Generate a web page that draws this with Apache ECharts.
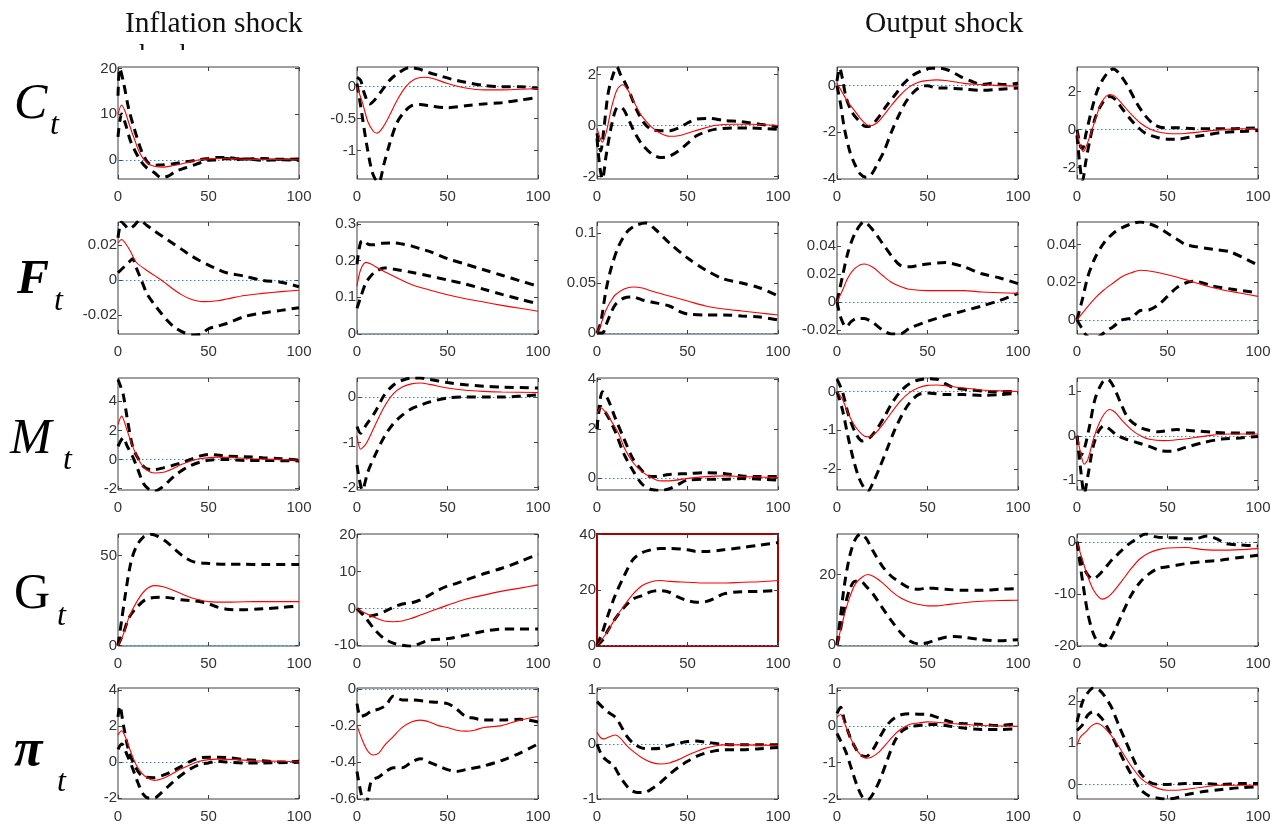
<!DOCTYPE html>
<html><head><meta charset="utf-8">
<script src="https://cdn.jsdelivr.net/npm/echarts@6/dist/echarts.min.js"></script>
<style>html,body{margin:0;padding:0;background:#fff}#c{width:1281px;height:824px}</style>
</head><body><div id="c"></div><script>
// ---- column / row headings ----
const colTitles = ['Inflation shock', '', '', 'Output shock', ''];
const rowNames = ['C', 'F', 'M', 'G', 'π'];
const xTicks = [0, 50, 100];

// ---- Row C ----
const C1_mid = [[0,10],[2,12],[4,10.5],[6,8],[9,4.6],[12,1.5],[16,-0.7],[20,-1.4],[25,-1.6],[30,-1.3],[35,-0.9],[40,-0.4],[45,0],[50,0.2],[57,0.3],[65,0.2],[75,0.1],[100,0]];
const C1_hi = [[0,14],[1,20],[3,17],[6,11],[9,6.8],[12,3],[14,1],[17,-0.8],[20,-1.2],[25,-1.1],[30,-0.9],[35,-0.6],[40,-0.3],[45,0],[50,0.3],[55,0.5],[60,0.5],[65,0.3],[70,0.2],[80,0.3],[90,0.1],[100,0.2]];
const C1_lo = [[0,5],[2,10],[4,8],[7,4],[10,1.5],[13,-0.5],[16,-1.8],[20,-2.8],[24,-3.9],[28,-3.5],[32,-2.5],[37,-1.8],[43,-1],[50,-0.1],[55,0],[60,0.3],[65,0],[70,0.2],[80,-0.1],[90,0],[100,-0.1]];
const C2_mid = [[0,0],[3,-0.25],[6,-0.55],[9,-0.7],[11,-0.73],[14,-0.65],[18,-0.45],[22,-0.22],[27,0],[32,0.12],[37,0.15],[42,0.13],[50,0.05],[60,-0.02],[70,-0.05],[80,-0.05],[90,-0.04],[100,-0.03]];
const C2_hi = [[0,0.15],[2,0.1],[4,-0.1],[7,-0.27],[10,-0.2],[14,-0.05],[18,0.1],[23,0.22],[29,0.3],[34,0.28],[40,0.22],[46,0.17],[52,0.12],[60,0.07],[70,0.02],[80,0],[90,0],[100,-0.03]];
const C2_lo = [[0,0.05],[2,-0.3],[5,-0.85],[8,-1.3],[10,-1.45],[12,-1.5],[15,-1.2],[18,-0.9],[22,-0.57],[26,-0.4],[30,-0.3],[35,-0.28],[40,-0.3],[50,-0.33],[60,-0.3],[70,-0.27],[80,-0.25],[90,-0.21],[100,-0.17]];
const C3_mid = [[0,-0.1],[2,-0.55],[3,-0.65],[5,-0.3],[8,0.7],[11,1.4],[14,1.6],[17,1.4],[21,0.85],[25,0.35],[30,-0.05],[35,-0.3],[40,-0.42],[45,-0.4],[50,-0.3],[57,-0.15],[65,0],[75,0.05],[85,0.05],[100,0]];
const C3_hi = [[0,-0.3],[2,-1],[4,0],[6,1.2],[8,1.8],[11,2.3],[13,2.0],[15,1.75],[18,1.3],[22,0.6],[26,0.1],[30,-0.15],[35,-0.2],[40,-0.2],[45,-0.1],[50,0.1],[55,0.25],[62,0.28],[70,0.2],[80,0.15],[90,0.05],[100,-0.05]];
const C3_lo = [[0,-0.5],[1.5,-1.6],[3,-2.1],[5,-1.2],[8,0],[11,0.7],[13,0.72],[15,0.6],[18,0.15],[21,-0.3],[25,-0.75],[30,-1.1],[35,-1.26],[40,-1.2],[45,-1.0],[50,-0.7],[55,-0.4],[60,-0.25],[65,-0.15],[75,-0.1],[85,-0.1],[100,-0.15]];
const C4_mid = [[0,0.1],[3,-0.3],[6,-0.7],[10,-1.1],[14,-1.5],[18,-1.72],[22,-1.6],[26,-1.25],[30,-0.85],[35,-0.4],[40,-0.05],[45,0.15],[50,0.22],[55,0.25],[60,0.22],[70,0.1],[80,0.05],[90,0],[100,-0.02]];
const C4_hi = [[0,0.2],[1.5,0.75],[3,0.3],[5,-0.5],[8,-1.1],[12,-1.5],[16,-1.75],[19,-1.7],[23,-1.35],[27,-0.9],[32,-0.4],[37,0.1],[42,0.45],[47,0.65],[52,0.75],[57,0.75],[62,0.65],[68,0.4],[74,0.2],[80,0.05],[86,0.1],[92,0.05],[100,0.1]];
const C4_lo = [[0,0],[2,-0.8],[4,-1.8],[7,-2.8],[10,-3.4],[13,-3.8],[16,-3.92],[19,-3.8],[22,-3.4],[26,-2.8],[30,-2.0],[34,-1.3],[38,-0.7],[42,-0.3],[46,-0.05],[50,0],[55,-0.1],[60,-0.1],[70,-0.15],[80,-0.2],[90,-0.15],[100,-0.1]];
const C5_mid = [[0,-0.1],[2,-0.9],[3.5,-1.15],[5,-0.9],[8,-0.1],[11,0.8],[14,1.5],[18,1.85],[21,1.75],[25,1.35],[30,0.8],[35,0.35],[40,0.05],[45,-0.12],[50,-0.2],[55,-0.22],[60,-0.2],[70,-0.1],[80,0],[90,0.05],[100,0.05]];
const C5_hi = [[0,0],[2,-0.9],[3,-1.0],[5,-0.2],[8,1.0],[11,2.0],[14,2.6],[17,3.0],[20,3.2],[23,3.0],[28,2.3],[33,1.4],[38,0.7],[43,0.25],[48,0.1],[55,0.1],[65,0.05],[75,0.05],[85,0.05],[100,0.1]];
const C5_lo = [[0,-0.3],[1.5,-1.8],[3,-2.7],[5,-1.6],[7,-0.6],[10,0.6],[14,1.4],[18,1.75],[21,1.6],[25,1.1],[30,0.5],[34,0.1],[38,-0.2],[44,-0.4],[50,-0.5],[56,-0.5],[62,-0.4],[70,-0.3],[80,-0.15],[90,-0.1],[100,-0.05]];

// ---- Row F ----
const F1_mid = [[0,0.021],[2,0.023],[4,0.021],[7,0.016],[10,0.01],[15,0.006],[20,0.0025],[25,-0.001],[30,-0.005],[35,-0.0085],[40,-0.011],[47,-0.0125],[55,-0.012],[60,-0.011],[70,-0.009],[80,-0.0078],[90,-0.0068],[100,-0.006]];
const F1_hi = [[0,0.024],[2,0.033],[4,0.031],[6,0.029],[9,0.031],[12,0.034],[16,0.031],[20,0.028],[25,0.0245],[30,0.021],[35,0.0175],[40,0.014],[45,0.011],[50,0.0084],[55,0.006],[60,0.004],[70,0.002],[80,-0.0004],[90,-0.0014],[100,-0.004]];
const F1_lo = [[0,0.004],[3,0.007],[6,0.01],[8,0.012],[10,0.007],[13,-0.0004],[16,-0.008],[20,-0.014],[23,-0.018],[27,-0.023],[31,-0.027],[36,-0.030],[42,-0.0315],[46,-0.031],[50,-0.028],[55,-0.0265],[60,-0.025],[70,-0.021],[80,-0.019],[90,-0.0175],[100,-0.016]];
const F2_mid = [[0,0.13],[2,0.175],[5,0.195],[8,0.19],[10,0.184],[15,0.17],[20,0.158],[30,0.135],[40,0.12],[50,0.107],[60,0.096],[70,0.087],[80,0.078],[90,0.07],[100,0.062]];
const F2_hi = [[0,0.19],[2,0.25],[4,0.255],[6,0.245],[9,0.243],[14,0.247],[20,0.248],[25,0.245],[30,0.24],[35,0.232],[40,0.225],[50,0.205],[60,0.19],[70,0.175],[80,0.16],[90,0.145],[100,0.13]];
const F2_lo = [[0,0.07],[2,0.1],[5,0.14],[8,0.16],[11,0.172],[15,0.18],[20,0.177],[30,0.168],[40,0.158],[50,0.147],[60,0.136],[70,0.122],[80,0.108],[90,0.095],[100,0.082]];
const F3_mid = [[0,0],[2,0.008],[5,0.023],[8,0.033],[10,0.038],[15,0.044],[20,0.046],[25,0.045],[30,0.042],[40,0.037],[50,0.032],[60,0.027],[70,0.024],[80,0.022],[90,0.02],[100,0.018]];
const F3_hi = [[0,0],[2,0.01],[5,0.043],[8,0.066],[12,0.087],[17,0.102],[22,0.108],[27,0.11],[32,0.104],[40,0.09],[50,0.075],[60,0.063],[70,0.054],[80,0.05],[90,0.045],[100,0.037]];
const F3_lo = [[0,0],[3,0],[5,0.008],[7,0.017],[10,0.028],[15,0.035],[20,0.036],[25,0.033],[30,0.031],[40,0.027],[45,0.022],[50,0.019],[60,0.018],[70,0.018],[80,0.017],[90,0.016],[100,0.013]];
const F4_mid = [[0,0],[3,0.008],[6,0.017],[10,0.024],[15,0.027],[20,0.0245],[25,0.019],[30,0.014],[35,0.011],[40,0.009],[50,0.008],[60,0.008],[70,0.008],[80,0.007],[90,0.0065],[100,0.006]];
const F4_hi = [[0,0],[3,0.018],[6,0.035],[10,0.049],[15,0.057],[20,0.051],[25,0.042],[30,0.033],[35,0.026],[40,0.025],[45,0.026],[50,0.027],[60,0.028],[70,0.025],[80,0.02],[90,0.017],[100,0.013]];
const F4_lo = [[0,0],[2,-0.011],[5,-0.018],[8,-0.014],[11,-0.012],[15,-0.012],[20,-0.015],[25,-0.02],[30,-0.023],[35,-0.023],[40,-0.019],[50,-0.014],[60,-0.01],[70,-0.0065],[80,-0.003],[90,0.001],[100,0.006]];
const F5_mid = [[0,0],[5,0.006],[10,0.0116],[15,0.016],[20,0.0196],[25,0.023],[30,0.025],[35,0.0264],[40,0.026],[50,0.024],[60,0.0214],[70,0.0184],[80,0.016],[90,0.0143],[100,0.0125]];
const F5_hi = [[0,0],[3,0.011],[6,0.023],[10,0.033],[15,0.041],[20,0.046],[25,0.049],[30,0.051],[35,0.052],[40,0.051],[45,0.049],[50,0.046],[55,0.043],[60,0.04],[65,0.039],[75,0.0375],[85,0.036],[100,0.029]];
const F5_lo = [[0,0],[3,-0.005],[5,-0.008],[8,-0.01],[12,-0.009],[16,-0.006],[20,-0.0036],[25,0],[30,0.001],[35,0.005],[40,0.0054],[45,0.008],[50,0.0125],[55,0.017],[60,0.0196],[65,0.0205],[75,0.018],[85,0.0164],[100,0.0143]];

// ---- Row M ----
const M1_mid = [[0,2.4],[2,2.98],[5,2.0],[8,0.93],[10,0.35],[13,-0.35],[16,-0.74],[20,-0.93],[25,-0.88],[30,-0.65],[35,-0.35],[40,-0.12],[45,0.05],[55,0.16],[65,0.12],[75,0.05],[100,-0.05]];
const M1_hi = [[0,5.5],[1.5,5],[3,4.4],[5,2.9],[8,0.93],[11,0.1],[15,-0.58],[20,-0.7],[25,-0.58],[30,-0.42],[35,-0.23],[40,0],[45,0.23],[50,0.35],[55,0.3],[60,0.23],[70,0.19],[80,0.12],[90,0.05],[100,-0.05]];
const M1_lo = [[0,0.9],[3,1.5],[5,0.93],[8,0.23],[11,-0.7],[14,-1.63],[17,-2.05],[20,-2.2],[24,-1.95],[28,-1.5],[32,-1.05],[36,-0.7],[40,-0.42],[45,-0.19],[50,-0.05],[60,0],[70,-0.07],[80,-0.07],[100,-0.1]];
const M2_mid = [[0,-0.85],[2,-1.15],[5,-1.03],[10,-0.62],[15,-0.22],[20,0.07],[25,0.22],[30,0.29],[35,0.31],[40,0.28],[50,0.2],[60,0.15],[70,0.125],[80,0.11],[100,0.1]];
const M2_hi = [[0,-0.65],[2,-0.8],[5,-0.62],[10,-0.33],[15,0.04],[20,0.26],[25,0.37],[30,0.42],[35,0.42],[40,0.39],[50,0.32],[60,0.27],[70,0.24],[80,0.22],[100,0.2]];
const M2_lo = [[0,-1.5],[3,-2.05],[6,-1.65],[10,-1.28],[15,-0.88],[20,-0.59],[25,-0.4],[30,-0.26],[35,-0.18],[40,-0.11],[50,-0.02],[60,0],[70,0],[80,0],[100,0.05]];
const M3_mid = [[0,2.6],[2,2.85],[5,2.65],[8,2.3],[12,1.8],[15,1.25],[20,0.63],[25,0.26],[30,0.03],[35,-0.1],[40,-0.1],[50,0],[60,0.07],[70,0.1],[80,0.07],[100,0.03]];
const M3_hi = [[0,2.0],[3,3.5],[6,3.2],[10,2.45],[15,1.58],[20,0.77],[25,0.3],[28,0.1],[32,0.07],[40,0.16],[50,0.19],[60,0.23],[70,0.2],[80,0.1],[90,0.07],[100,0.07]];
const M3_lo = [[0,2.0],[2,2.9],[6,2.5],[10,1.9],[15,0.97],[20,0.3],[25,-0.24],[30,-0.45],[35,-0.49],[40,-0.42],[45,-0.24],[50,-0.07],[60,-0.04],[70,-0.04],[80,-0.01],[100,-0.07]];
const M4_mid = [[0,0],[3,-0.2],[6,-0.55],[10,-0.9],[15,-1.15],[18,-1.17],[22,-1.04],[26,-0.81],[30,-0.55],[35,-0.25],[40,-0.03],[45,0.1],[50,0.16],[55,0.17],[60,0.15],[70,0.09],[80,0.04],[90,0.02],[100,0]];
const M4_hi = [[0,0.32],[3,0],[6,-0.55],[10,-1.05],[14,-1.28],[18,-1.2],[22,-0.97],[26,-0.67],[30,-0.33],[35,0],[40,0.2],[45,0.3],[50,0.33],[55,0.32],[60,0.2],[65,0.09],[75,0.04],[85,0],[100,0]];
const M4_lo = [[0,0],[3,-0.47],[6,-1.15],[9,-1.75],[12,-2.22],[15,-2.5],[17,-2.58],[20,-2.35],[24,-1.92],[28,-1.45],[32,-0.98],[36,-0.6],[40,-0.3],[45,-0.08],[50,-0.04],[60,-0.08],[70,-0.08],[80,-0.1],[90,-0.08],[100,-0.04]];
const M5_mid = [[0,0],[2,-0.38],[4,-0.64],[6,-0.53],[9,-0.08],[12,0.26],[15,0.49],[18,0.59],[21,0.53],[25,0.34],[30,0.14],[35,0],[40,-0.08],[48,-0.11],[55,-0.09],[65,-0.04],[75,0.015],[85,0.04],[100,0.04]];
const M5_hi = [[0,0],[2,-0.45],[4,-0.3],[7,0.23],[10,0.83],[14,1.2],[17,1.27],[20,1.12],[24,0.75],[28,0.41],[33,0.23],[38,0.14],[45,0.09],[55,0.14],[65,0.11],[75,0.08],[85,0.06],[100,0.06]];
const M5_lo = [[0,0],[2,-0.75],[4,-1.3],[6,-0.9],[9,-0.23],[12,0.11],[15,0.23],[18,0.15],[22,0.015],[27,-0.075],[33,-0.15],[40,-0.24],[47,-0.34],[52,-0.35],[60,-0.26],[70,-0.15],[80,-0.075],[90,-0.05],[100,-0.015]];

// ---- Row G ----
const G1_mid = [[0,0],[3,6.3],[6,15.5],[10,23.7],[15,30.7],[20,33.3],[25,32.7],[30,30.9],[35,28.7],[40,26.7],[45,25.4],[50,24.4],[60,24.1],[70,24.3],[80,24.4],[100,24.4]];
const G1_hi = [[0,0],[2,14],[4,28],[7,45.6],[10,54.8],[14,60.3],[18,61.8],[22,60.7],[27,57.5],[32,52.9],[37,48.9],[42,46.5],[50,45.6],[60,45.2],[70,45.2],[80,45],[100,45]];
const G1_lo = [[0,0],[3,7],[6,15.3],[10,20.8],[15,25.4],[20,26.7],[25,26.8],[30,26.3],[35,25.4],[40,25],[45,24.4],[50,23.2],[55,21.3],[60,20.2],[65,19.9],[70,19.9],[80,20.4],[90,21.1],[100,22]];
const G2_mid = [[0,0],[5,-1.4],[10,-2.5],[15,-3.4],[20,-3.6],[25,-3.4],[30,-2.7],[35,-1.8],[40,-0.9],[45,0],[50,0.9],[60,2.5],[70,3.6],[80,4.7],[90,5.5],[100,6.4]];
const G2_hi = [[0,0],[3,-1.4],[6,-2.1],[10,-1.8],[15,-0.9],[20,0.3],[25,1.2],[30,1.5],[35,2.3],[40,3.6],[45,5],[50,6.1],[55,6.8],[60,7.7],[70,9.4],[80,10.9],[90,12.7],[100,14.7]];
const G2_lo = [[0,0],[5,-2.7],[10,-5.9],[15,-8.2],[20,-9.4],[25,-10],[30,-10.3],[35,-9.5],[40,-8.6],[50,-8.2],[60,-7.3],[70,-6.2],[80,-5.6],[90,-5.6],[100,-5.6]];
const G3_mid = [[0,0],[5,4.2],[10,9.6],[15,14.4],[20,18.6],[25,21.6],[30,23],[35,23.4],[40,23.1],[50,22.8],[60,22.5],[70,22.5],[80,22.8],[90,23],[100,23.4]];
const G3_hi = [[0,0],[3,4.8],[6,10.8],[10,18],[15,25.1],[20,31.1],[25,33.5],[30,34.5],[35,35],[40,35],[50,34.5],[55,33.9],[60,33.9],[70,34.5],[80,35.3],[90,36.2],[100,37.1]];
const G3_lo = [[0,0],[3,1.8],[6,5.4],[10,9.6],[15,13.8],[20,16.8],[25,18],[30,19.4],[35,19.8],[40,19.2],[45,17.4],[50,16.2],[55,15.6],[60,15.8],[65,17],[70,18.6],[80,19.4],[90,19.5],[100,19.8]];
const G4_mid = [[0,0],[3,6.4],[6,12],[10,17.2],[14,19.3],[17,20],[20,19.5],[25,17.7],[30,15.3],[35,13.4],[40,12.2],[45,11.5],[50,11.1],[55,11.1],[60,11.4],[70,12],[80,12.4],[90,12.6],[100,12.7]];
const G4_hi = [[0,0],[2,8.3],[4,16.7],[7,25.2],[10,29.9],[13,31.5],[16,30.3],[20,26.6],[25,22.4],[30,19.5],[35,17.7],[40,16.2],[45,15.8],[50,16.2],[55,16],[60,15.8],[70,15.5],[80,15.5],[90,15.8],[100,16]];
const G4_lo = [[0,0],[2,4.5],[4,10.1],[7,15.8],[10,18.1],[13,18.1],[16,16.7],[20,14.4],[25,10.6],[30,6.9],[35,3.6],[40,1.2],[45,0.3],[50,0.6],[55,1.5],[60,2.2],[65,2.4],[70,2.2],[80,1.5],[90,1.2],[100,1.5]];
const G5_mid = [[0,0],[3,-3.5],[6,-6.7],[9,-9.2],[12,-10.6],[14,-11],[17,-10.6],[20,-9.6],[25,-7.4],[30,-5.1],[35,-3.2],[40,-2.1],[45,-1.5],[50,-1.2],[60,-1.1],[70,-1.5],[80,-1.6],[90,-1.5],[100,-1.3]];
const G5_hi = [[0,0],[3,-4.2],[6,-6.4],[9,-7.1],[12,-6.4],[16,-4.8],[20,-3.2],[24,-1.9],[28,-0.6],[33,0.6],[38,1.5],[43,1],[48,0.8],[55,0.8],[60,0.6],[65,0.6],[72,1.1],[77,0.6],[82,-0.3],[90,-0.6],[100,-0.8]];
const G5_lo = [[0,0],[3,-7.4],[6,-13.8],[9,-17.6],[12,-19.5],[15,-20],[18,-18.9],[21,-16.9],[25,-13.8],[30,-10.2],[35,-7.7],[40,-6.1],[45,-5.1],[50,-4.8],[55,-4.5],[60,-4.2],[70,-3.8],[80,-3.5],[90,-3],[100,-2.6]];

// ---- Row pi ----
const P1_mid = [[0,1.5],[2,1.73],[4,1.4],[7,0.58],[10,-0.15],[13,-0.6],[16,-0.87],[20,-1.02],[25,-0.9],[30,-0.65],[35,-0.38],[40,-0.15],[45,0.04],[50,0.13],[55,0.16],[65,0.13],[75,0.07],[90,0.04],[100,0]];
const P1_hi = [[0,2.5],[1,3.1],[3,2.04],[6,0.58],[9,-0.15],[12,-0.65],[15,-0.84],[20,-0.87],[25,-0.73],[30,-0.51],[35,-0.24],[40,0.04],[45,0.22],[50,0.27],[60,0.25],[70,0.13],[80,0.07],[90,0],[100,0.04]];
const P1_lo = [[0,0.7],[2,1],[5,0.4],[8,-0.33],[11,-1.15],[14,-1.8],[17,-2.0],[20,-2],[24,-1.7],[28,-1.33],[32,-0.96],[36,-0.65],[40,-0.38],[45,-0.15],[50,-0.05],[55,0.04],[60,0],[70,-0.05],[80,-0.05],[100,-0.02]];
const P2_mid = [[0,-0.2],[3,-0.28],[6,-0.34],[9,-0.36],[12,-0.35],[15,-0.31],[20,-0.26],[25,-0.21],[30,-0.18],[35,-0.17],[40,-0.18],[45,-0.2],[50,-0.21],[55,-0.225],[60,-0.23],[65,-0.225],[70,-0.21],[80,-0.2],[90,-0.17],[100,-0.15]];
const P2_hi = [[0,-0.08],[2,-0.15],[5,-0.14],[8,-0.12],[12,-0.11],[16,-0.09],[20,-0.04],[25,-0.06],[30,-0.06],[40,-0.07],[50,-0.08],[55,-0.11],[60,-0.15],[65,-0.16],[70,-0.17],[80,-0.17],[90,-0.165],[100,-0.18]];
const P2_lo = [[0,-0.45],[3,-0.6],[5,-0.62],[8,-0.5],[12,-0.48],[16,-0.45],[20,-0.43],[25,-0.43],[30,-0.4],[35,-0.38],[40,-0.4],[45,-0.42],[50,-0.44],[55,-0.45],[60,-0.44],[70,-0.42],[80,-0.39],[90,-0.35],[100,-0.3]];
const P3_mid = [[0,0.22],[2,0.12],[4,0.1],[7,0.14],[10,0.17],[13,0.11],[16,-0.01],[20,-0.13],[25,-0.25],[30,-0.33],[35,-0.36],[40,-0.34],[45,-0.28],[50,-0.2],[55,-0.13],[60,-0.07],[65,-0.03],[70,-0.01],[80,-0.01],[100,-0.02]];
const P3_hi = [[0,0.78],[3,0.68],[6,0.59],[10,0.5],[13,0.35],[16,0.17],[20,0.02],[25,-0.07],[30,-0.08],[35,-0.07],[40,-0.02],[45,0.02],[50,0.05],[55,0.06],[60,0.04],[70,0],[80,-0.01],[90,-0.01],[100,-0.01]];
const P3_lo = [[0,0],[3,-0.22],[6,-0.31],[9,-0.38],[12,-0.55],[15,-0.7],[18,-0.82],[22,-0.88],[26,-0.88],[30,-0.82],[35,-0.7],[40,-0.55],[45,-0.42],[50,-0.31],[55,-0.22],[60,-0.16],[65,-0.12],[70,-0.1],[80,-0.1],[90,-0.08],[100,-0.06]];
const P4_mid = [[0,0.25],[2,0.32],[4,0.1],[7,-0.27],[10,-0.58],[13,-0.79],[16,-0.88],[19,-0.85],[23,-0.72],[27,-0.5],[31,-0.27],[35,-0.09],[40,0.05],[45,0.09],[50,0.12],[55,0.11],[60,0.09],[70,0.05],[80,0.02],[100,0]];
const P4_hi = [[0,0.35],[2,0.52],[4,0.18],[7,-0.27],[10,-0.58],[13,-0.79],[16,-0.83],[20,-0.63],[24,-0.27],[28,0.05],[32,0.23],[36,0.32],[40,0.34],[45,0.33],[50,0.32],[55,0.25],[60,0.16],[65,0.09],[70,0.07],[80,0.05],[90,0.02],[100,0.07]];
const P4_lo = [[0,-0.2],[2,-0.4],[5,-0.72],[8,-1.17],[11,-1.62],[14,-1.94],[17,-2.02],[20,-1.85],[24,-1.44],[28,-0.9],[32,-0.4],[36,-0.13],[40,-0.02],[45,0.02],[50,0.05],[55,0.05],[60,0.02],[70,-0.05],[80,-0.09],[90,-0.09],[100,-0.07]];
const P5_mid = [[0,0.95],[2,1.15],[5,1.27],[8,1.41],[11,1.47],[14,1.41],[18,1.23],[22,0.99],[26,0.71],[30,0.44],[35,0.16],[40,0],[45,-0.1],[50,-0.14],[55,-0.14],[60,-0.12],[70,-0.06],[80,-0.02],[100,-0.02]];
const P5_hi = [[0,1.5],[3,1.98],[6,2.21],[9,2.32],[12,2.28],[15,2.14],[19,1.86],[23,1.43],[27,1.03],[31,0.63],[35,0.28],[40,0.06],[45,0],[50,0],[60,0.02],[70,0.02],[80,0],[90,0.02],[100,0.02]];
const P5_lo = [[0,1.3],[3,1.43],[6,1.67],[9,1.75],[12,1.67],[15,1.51],[19,1.19],[23,0.83],[27,0.48],[31,0.16],[35,-0.12],[40,-0.28],[45,-0.33],[50,-0.35],[55,-0.32],[60,-0.25],[70,-0.17],[80,-0.12],[90,-0.08],[100,-0.06]];

// ---- y ranges and y tick labels per row ----
const C_yRange = [[-4.2,20.3],[-1.45,0.31],[-2.1,2.3],[-4,0.8],[-2.6,3.3]];
const C_yTicks = [[0,10,20],[-1,-0.5,0],[-2,0,2],[-4,-2,0],[-2,0,2]];
const F_yRange = [[-0.031,0.033],[0,0.305],[-0.001,0.111],[-0.023,0.057],[-0.0075,0.052]];
const F_yTicks = [[-0.02,0,0.02],[0,0.1,0.2,0.3],[0,0.05,0.1],[-0.02,0,0.02,0.04],[0,0.02,0.04]];
const M_yRange = [[-2.1,5.6],[-2.05,0.42],[-0.47,4.05],[-2.55,0.35],[-1.22,1.3]];
const M_yTicks = [[-2,0,2,4],[-2,-1,0],[0,2,4],[-2,-1,0],[-1,0,1]];
const G_yRange = [[-0.3,62],[-10.2,20.2],[-0.2,40.2],[-0.3,31.5],[-20,1.5]];
const G_yTicks = [[0,50],[-10,0,10,20],[0,20,40],[0,20],[-20,-10,0]];
const P_yRange = [[-2.05,4.1],[-0.6,0.005],[-1,1.03],[-2,1.05],[-0.35,2.32]];
const P_yTicks = [[-2,0,2,4],[-0.6,-0.4,-0.2,0],[-1,0,1],[-2,-1,0,1],[0,1,2]];

// ---- assemble ----
const rowsMid = [[C1_mid,C2_mid,C3_mid,C4_mid,C5_mid],[F1_mid,F2_mid,F3_mid,F4_mid,F5_mid],[M1_mid,M2_mid,M3_mid,M4_mid,M5_mid],[G1_mid,G2_mid,G3_mid,G4_mid,G5_mid],[P1_mid,P2_mid,P3_mid,P4_mid,P5_mid]];
const rowsHi = [[C1_hi,C2_hi,C3_hi,C4_hi,C5_hi],[F1_hi,F2_hi,F3_hi,F4_hi,F5_hi],[M1_hi,M2_hi,M3_hi,M4_hi,M5_hi],[G1_hi,G2_hi,G3_hi,G4_hi,G5_hi],[P1_hi,P2_hi,P3_hi,P4_hi,P5_hi]];
const rowsLo = [[C1_lo,C2_lo,C3_lo,C4_lo,C5_lo],[F1_lo,F2_lo,F3_lo,F4_lo,F5_lo],[M1_lo,M2_lo,M3_lo,M4_lo,M5_lo],[G1_lo,G2_lo,G3_lo,G4_lo,G5_lo],[P1_lo,P2_lo,P3_lo,P4_lo,P5_lo]];
const rowsRange = [C_yRange, F_yRange, M_yRange, G_yRange, P_yRange];
const rowsTicks = [C_yTicks, F_yTicks, M_yTicks, G_yTicks, P_yTicks];

const colLeft = [118, 357, 597, 837, 1077];
const rowTop = [67, 222, 378, 534, 688];
const W = 181, H = 112;
const frameColor = '#404040';
const labelFont = {fontSize: 15, color: '#333', fontFamily: '"Liberation Sans", Arial, sans-serif'};

const grids = [], xAxes = [], yAxes = [], series = [];
for (let r = 0; r < 5; r++) {
  for (let c = 0; c < 5; c++) {
    const idx = r * 5 + c;
    const special = (r === 3 && c === 2);
    grids.push({left: colLeft[c], top: rowTop[r], width: W, height: H, show: true,
      borderColor: special ? '#a80000' : frameColor, borderWidth: special ? 2 : 1, backgroundColor: 'rgba(0,0,0,0)'});
    const xBase = {gridIndex: idx, type: 'value', min: 0, max: 100, interval: 50,
      axisLine: {show: false, onZero: false}, splitLine: {show: false},
      axisTick: {inside: true, length: 4, lineStyle: {color: frameColor}}};
    xAxes.push(Object.assign({}, xBase, {position: 'bottom',
      axisLabel: Object.assign({margin: 10, customValues: xTicks}, labelFont)}));
    xAxes.push(Object.assign({}, xBase, {position: 'top', axisLabel: {show: false}}));
    const rg = rowsRange[r][c], tk = rowsTicks[r][c];
    const yBase = {gridIndex: idx, type: 'value', min: rg[0], max: rg[1],
      axisLine: {show: false, onZero: false}, splitLine: {show: false},
      axisTick: {inside: true, length: 4, customValues: tk, lineStyle: {color: frameColor}}};
    yAxes.push(Object.assign({}, yBase, {position: 'left',
      axisLabel: Object.assign({margin: 1, customValues: tk, showMinLabel: true, showMaxLabel: true}, labelFont)}));
    yAxes.push(Object.assign({}, yBase, {position: 'right', axisLabel: {show: false}}));
    const xi = 2 * idx, yi = 2 * idx;
    const dashed = {color: '#000', width: 3, type: [9, 6]};
    series.push({type: 'line', xAxisIndex: xi, yAxisIndex: yi, data: rowsHi[r][c], showSymbol: false, symbol: 'none',
      smooth: 0.3, lineStyle: dashed, itemStyle: {color: '#000'}, z: 3,
      markLine: {silent: true, symbol: ['none', 'none'], label: {show: false}, animation: false, z: 2,
        lineStyle: {color: '#2f8ad6', type: [1.5, 2.5], width: 1.2, opacity: 1}, data: [{yAxis: 0}]}});
    series.push({type: 'line', xAxisIndex: xi, yAxisIndex: yi, data: rowsLo[r][c], showSymbol: false, symbol: 'none',
      smooth: 0.3, lineStyle: dashed, itemStyle: {color: '#000'}, z: 3});
    series.push({type: 'line', xAxisIndex: xi, yAxisIndex: yi, data: rowsMid[r][c], showSymbol: false, symbol: 'none',
      smooth: 0.3, lineStyle: {color: '#ff0000', width: 1.1}, itemStyle: {color: '#ff0000'}, z: 4});
  }
}

const serif = '"Liberation Serif", "Times New Roman", serif';
const graphics = [];
colTitles.forEach((t, c) => {
  if (!t) return;
  graphics.push({type: 'text', x: c === 0 ? 125 : 865, y: 24, style: {text: t, font: '29.5px ' + serif, fill: '#111', verticalAlign: 'middle'}});
});
// clipped leftover word under the first heading
graphics.push({type: 'text', x: 128, y: 42, z: 1, style: {text: 'shock', font: '28px ' + serif, fill: '#111', verticalAlign: 'top'}});
graphics.push({type: 'rect', z: 2, shape: {x: 120, y: 50, width: 85, height: 16}, style: {fill: '#fff'}});
const rowLabelStyle = [
  {main: 'italic 50px ', sx: 50, dy: 21},
  {main: 'italic bold 48px ', sx: 54, dy: 21},
  {main: 'italic 50px ', sx: 63, dy: 21},
  {main: '50px ', sx: 57, dy: 22},
  {main: 'italic bold 52px ', sx: 57, dy: 31}
];
const rowLabelY = [105, 281, 440, 595, 752];
const rowLabelX = [14, 17, 10, 14, 14];
rowNames.forEach((n, r) => {
  const st = rowLabelStyle[r];
  graphics.push({type: 'text', x: rowLabelX[r], y: rowLabelY[r], style: {text: n, font: st.main + serif, fill: '#000', verticalAlign: 'middle'}});
  graphics.push({type: 'text', x: st.sx, y: rowLabelY[r] + st.dy, style: {text: 't', font: 'italic 32px ' + serif, fill: '#000', verticalAlign: 'middle'}});
});

const chart = echarts.init(document.getElementById('c'), null, {renderer: 'canvas'});
chart.setOption({animation: false, backgroundColor: '#fff', grid: grids, xAxis: xAxes, yAxis: yAxes, series: series, graphic: graphics});
</script></body></html>
